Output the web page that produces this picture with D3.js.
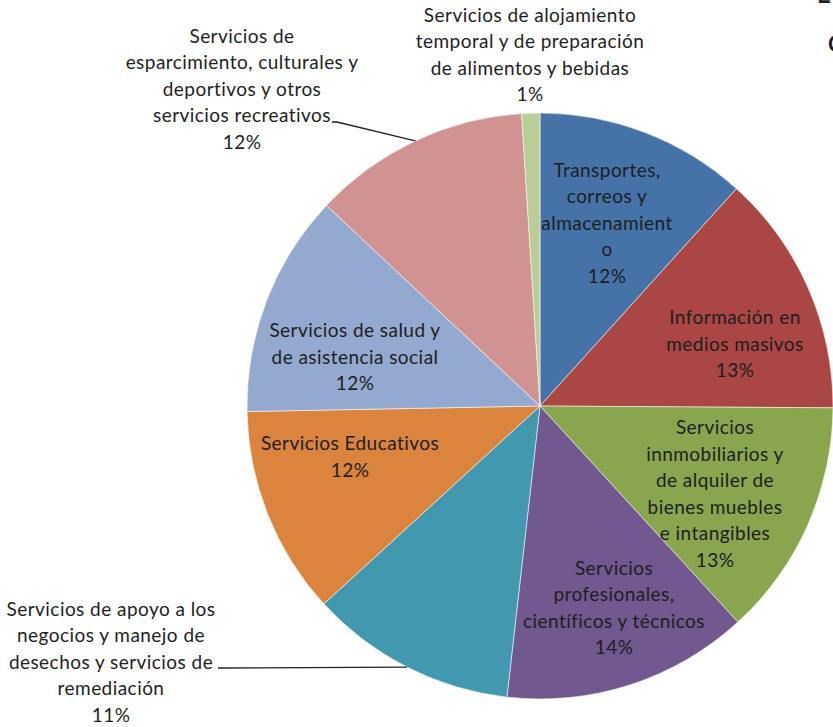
<!DOCTYPE html>
<html>
<head>
<meta charset="utf-8">
<script src="https://cdn.jsdelivr.net/npm/d3@7/dist/d3.min.js"></script>
<style>
  html, body { margin: 0; padding: 0; background: #fff; overflow: hidden; }
  svg { display: block; }
  text { font-family: Lato, "Open Sans", sans-serif; fill: #1e1e1e; }
</style>
</head>
<body>
<svg id="chart" width="833" height="727"></svg>
<script>
// Sector shares of services (percent), clockwise from 12 o'clock
const categories = [
  "Transportes, correos y almacenamiento",
  "Información en medios masivos",
  "Servicios innmobiliarios y de alquiler de bienes muebles e intangibles",
  "Servicios profesionales, científicos y técnicos",
  "Servicios de apoyo a los negocios y manejo de desechos y servicios de remediación",
  "Servicios Educativos",
  "Servicios de salud y de asistencia social",
  "Servicios de esparcimiento, culturales y deportivos y otros servicios recreativos",
  "Servicios de alojamiento temporal y de preparación de alimentos y bebidas"
];
const shares = [11.7, 13.4, 13.1, 13.6, 11.4, 11.5, 12.3, 12.0, 1.0];

// Wrapped label lines, as printed on the chart
const labelLines = [
  ["Transportes,", "correos y", "almacenamient", "o"],
  ["Información en", "medios masivos"],
  ["Servicios", "innmobiliarios y", "de alquiler de", "bienes muebles", "e intangibles"],
  ["Servicios", "profesionales,", "científicos y técnicos"],
  ["Servicios de apoyo a los", "negocios y manejo de", "desechos y servicios de", "remediación"],
  ["Servicios Educativos"],
  ["Servicios de salud y", "de asistencia social"],
  ["Servicios de", "esparcimiento, culturales y", "deportivos y otros", "servicios recreativos"],
  ["Servicios de alojamiento", "temporal y de preparación", "de alimentos y bebidas"]
];

const palette = ["#4572A7", "#AA4643", "#89A54E", "#71588F", "#4198AF",
                 "#DB843D", "#93A9CF", "#D19392", "#B9CD96"];

// Layout
const W = 833, H = 727;
const cx = 540, cy = 406, R = 293;
const lineH = 26.5;
// label block centres, relative to the pie centre
const labelPos = [
  { x: 67,  y: -183 },
  { x: 195, y: -62 },
  { x: 175, y: 88 },
  { x: 74,  y: 202 },
  { x: -429, y: 256, leader: { x: -322, y: 262 } },
  { x: -190, y: 51 },
  { x: -185, y: -49 },
  { x: -298, y: -317, leader: { x: -208, y: -284 } },
  { x: -10, y: -351 }
];

const svg = d3.select("#chart");
const g = svg.append("g").attr("transform", `translate(${cx},${cy})`);

const total = d3.sum(shares);
const pct = d3.format(".0%");

const pie = d3.pie().sort(null).value(d => d)(shares);
const arc = d3.arc().innerRadius(0).outerRadius(R);
const color = d3.scaleOrdinal().domain(d3.range(shares.length)).range(palette);

g.selectAll("path.slice")
  .data(pie)
  .join("path")
  .attr("class", "slice")
  .attr("d", arc)
  .attr("fill", (d, i) => color(i))
  .attr("stroke", "rgba(255,255,255,0.55)")
  .attr("stroke-width", 1);

// leader lines for labels placed outside the pie
pie.forEach((d, i) => {
  const p = labelPos[i];
  if (!p.leader) return;
  const a = (d.startAngle + d.endAngle) / 2;
  const edge = [R * Math.sin(a), -R * Math.cos(a)];
  const pts = [[p.leader.x, p.leader.y], [p.leader.x + 5, p.leader.y], edge];
  g.append("path")
    .attr("d", d3.line()(pts))
    .attr("fill", "none")
    .attr("stroke", "#222")
    .attr("stroke-width", 1.3);
});

// labels: category lines followed by the percentage
pie.forEach((d, i) => {
  const lines = labelLines[i].concat([pct(shares[i] / total)]);
  const p = labelPos[i];
  const n = lines.length;
  const t = g.append("text")
    .attr("text-anchor", "middle")
    .attr("font-size", 19)
    .attr("letter-spacing", 0.45);
  lines.forEach((ln, k) => {
    t.append("tspan")
      .attr("x", p.x)
      .attr("y", p.y + (k - (n - 1) / 2) * lineH)
      .attr("dy", "0.35em")
      .text(ln);
  });
});

// title text running off the right edge of the frame
svg.append("text").attr("x", 817).attr("y", 3)
  .attr("font-size", 24).attr("font-weight", "bold").text("E");
svg.append("text").attr("x", 828).attr("y", 52)
  .attr("font-size", 22).attr("font-weight", "bold").text("C");
</script>
</body>
</html>
